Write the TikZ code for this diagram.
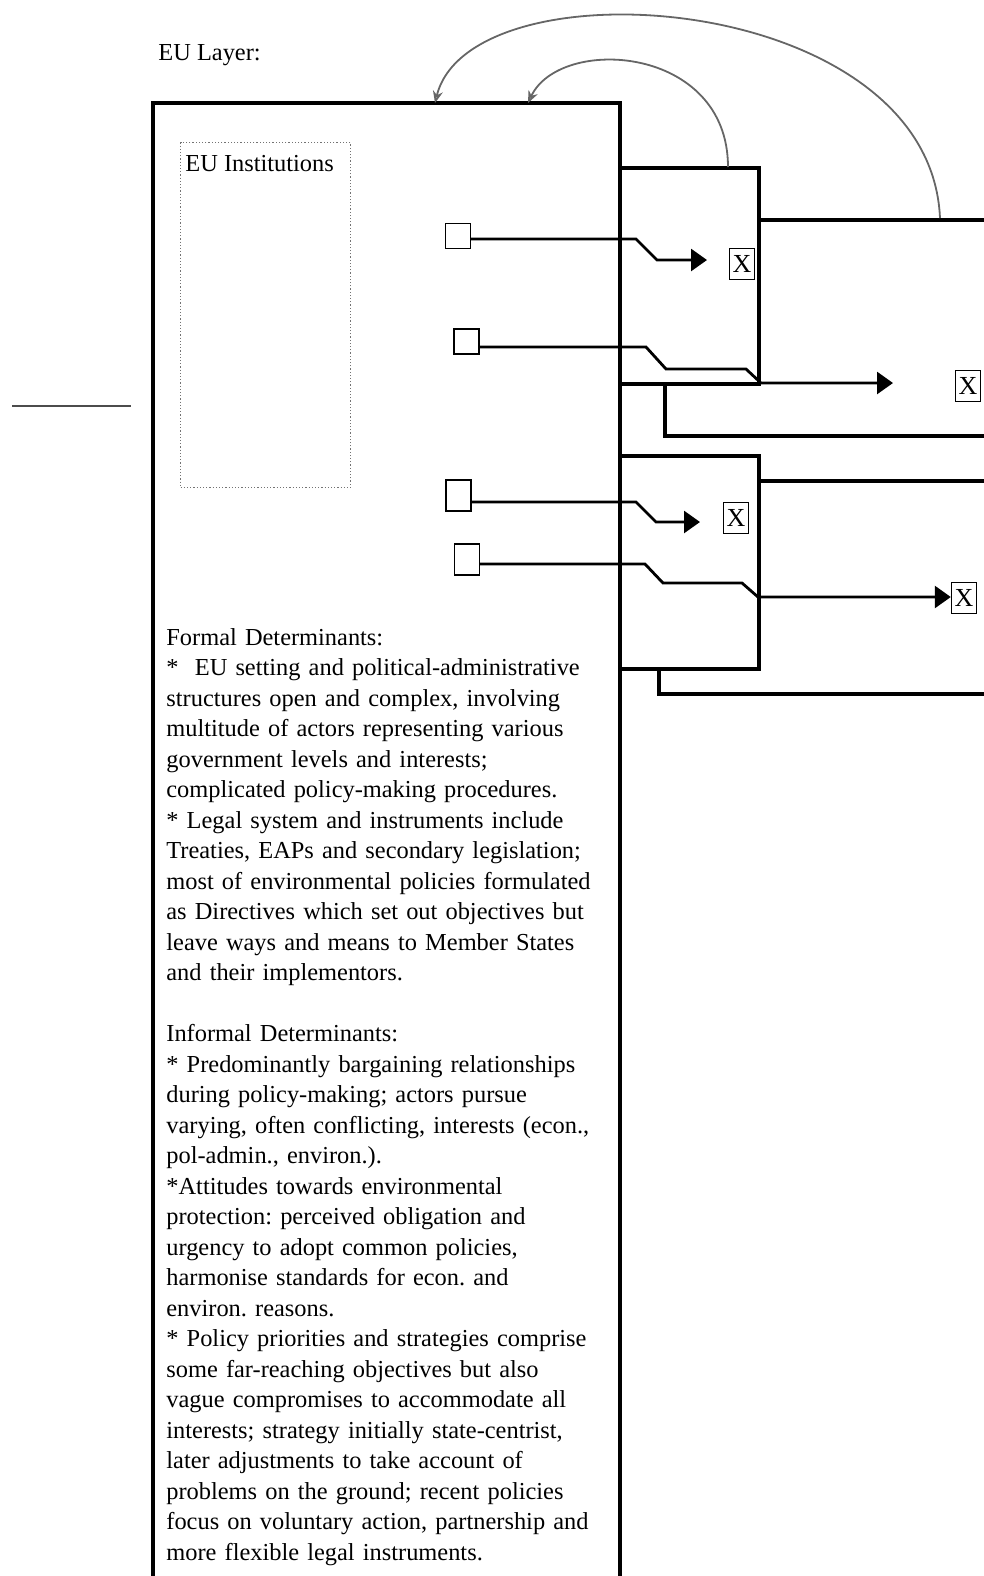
\documentclass[tikz,border=0pt]{standalone}
\usepackage{fontspec}
\setmainfont{Liberation Serif}
\usetikzlibrary{arrows.meta}
\begin{document}
\frenchspacing
\begin{tikzpicture}[x=0.5pt,y=-0.5pt,
  frame/.style={line width=1.6pt, line join=miter},
  conn/.style={line width=1.4pt, -{Triangle[length=8pt,width=11pt]}},
  port/.style={draw, line width=0.7pt, minimum width=12.5pt, minimum height=12.5pt, inner sep=0pt},
  tallport/.style={port, minimum height=15.5pt},
  xbox/.style={draw, line width=0.7pt, inner sep=0pt, minimum width=12.5pt, minimum height=15.5pt, font=\fontsize{13}{14}\selectfont},
  feedback/.style={line width=0.9pt, draw=black!60, -{Stealth[open,length=6pt,width=5pt]}},
  txt/.style={font=\fontsize{12.2}{15.25}\selectfont, inner sep=0pt}
]
\useasboundingbox (0,0) rectangle (984,1576);

% titles
\node[txt, anchor=base west] (layer) at (158,60) {EU Layer:};

% main EU box (open at the bottom)
\draw[frame] (153,1576) -- (153,103) -- (620,103) -- (620,1576);

% EU institutions dotted box
\node[draw=black!55, densely dotted, line width=0.6pt, anchor=north west,
      minimum width=85pt, minimum height=172.5pt, inner sep=0pt] (inst) at (180,142) {};
\node[txt, anchor=base west] (instlbl) at (185,171) {EU Institutions};

% second-level boxes
\draw[frame] (620,168) -- (759,168) -- (759,384) -- (620,384);
\draw[frame] (759,220) -- (984,220);
\draw[frame] (665,384) -- (665,436) -- (984,436);

\draw[frame] (620,456) -- (759,456) -- (759,669) -- (620,669);
\draw[frame] (759,481) -- (984,481);
\draw[frame] (659,669) -- (659,694) -- (984,694);

% ports
\node[port] (s1) at (458,236) {};
\node[port] (s2) at (466.5,341.5) {};
\node[tallport] (s3) at (458.5,495.5) {};
\node[tallport] (s4) at (467,559.5) {};

% X boxes
\node[xbox] (x1) at (742,264) {X};
\node[xbox] (x2) at (968,386) {X};
\node[xbox] (x3) at (736,518) {X};
\node[xbox] (x4) at (964,598) {X};

% arrow tips
\coordinate (t1) at (707,260);
\coordinate (t2) at (893,383);
\coordinate (t3) at (700,522);

% connectors
\draw[conn] (s1.east |- 0,239) -- (636,239) -- (657,260) -- (t1);
\draw[conn] (s2.east |- 0,347) -- (646,347) -- (666,369) -- (746,369) -- (761,383) -- (t2);
\draw[conn] (s3.east |- 0,502) -- (636,502) -- (656,522) -- (t3);
\draw[conn] (s4.east |- 0,564) -- (645,564) -- (663,583) -- (742,583) -- (758,597) -- (x4.west |- 0,597);

% feedback arcs
\coordinate (fa1) at (940,218);
\coordinate (fb1) at (435,103);
\coordinate (fa2) at (728,167);
\coordinate (fb2) at (528,103);
\draw[feedback] (fa1) .. controls (930,-10) and (470,-40) .. (fb1);
\draw[feedback] (fa2) .. controls (728,45) and (560,35) .. (fb2);

% left stub
\coordinate (l1) at (12,406);
\coordinate (l2) at (131,406);
\draw[line width=0.7pt, black!70] (l1) -- (l2);

% determinants text
\node[txt, anchor=base west, text width=240pt, align=left] (det) at (166,645) {%
Formal Determinants:\\
{}*\ \ EU setting and political-administrative\\
structures open and complex, involving\\
multitude of actors representing various\\
government levels and interests;\\
complicated policy-making procedures.\\
{}* Legal system and instruments include\\
Treaties, EAPs and secondary legislation;\\
most of environmental policies formulated\\
as Directives which set out objectives but\\
leave ways and means to Member States\\
and their implementors.\\[15.25pt]
Informal Determinants:\\
{}* Predominantly bargaining relationships\\
during policy-making; actors pursue\\
varying, often conflicting, interests (econ.,\\
pol-admin., environ.).\\
{}*Attitudes towards environmental\\
protection: perceived obligation and\\
urgency to adopt common policies,\\
harmonise standards for econ. and\\
environ. reasons.\\
{}* Policy priorities and strategies comprise\\
some far-reaching objectives but also\\
vague compromises to accommodate all\\
interests; strategy initially state-centrist,\\
later adjustments to take account of\\
problems on the ground; recent policies\\
focus on voluntary action, partnership and\\
more flexible legal instruments.};
\end{tikzpicture}
\end{document}
